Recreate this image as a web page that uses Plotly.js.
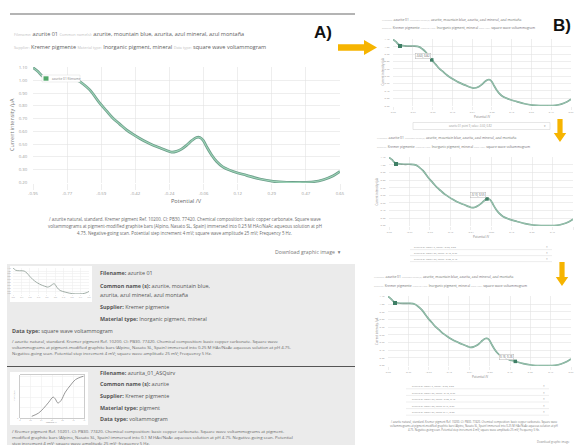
<!DOCTYPE html>
<html>
<head>
<meta charset="utf-8">
<script src="https://cdn.plot.ly/plotly-3.0.1.min.js"></script>
<style>
  html, body { margin: 0; padding: 0; background: #fff; }
  #chart { width: 575px; height: 445px; }
</style>
</head>
<body>
<div id="chart"></div>
<script>
// ---- azurite 01: square wave voltammogram (potential /V, current /µA) ----
const potential = [-0.950, -0.924, -0.898, -0.863, -0.811, -0.759, -0.715, -0.689, -0.654, -0.602,
                   -0.567, -0.533, -0.498, -0.463, -0.428, -0.393, -0.359, -0.324, -0.289, -0.254,
                   -0.228, -0.202, -0.176, -0.150, -0.124, -0.098, -0.080, -0.063, -0.046, -0.020,
                    0.007,  0.041,  0.093,  0.163,  0.233,  0.302,  0.372,  0.441,  0.511,  0.563,
                    0.615,  0.650];
const current   = [1.100, 1.069, 1.030, 1.014, 1.009, 1.009, 0.998, 0.972, 0.925, 0.821,
                   0.761, 0.703, 0.657, 0.612, 0.576, 0.544, 0.516, 0.492, 0.471, 0.450,
                   0.437, 0.443, 0.461, 0.490, 0.526, 0.552, 0.552, 0.529, 0.482, 0.417,
                   0.364, 0.320, 0.286, 0.255, 0.226, 0.208, 0.200, 0.200, 0.205, 0.221,
                   0.252, 0.286];

// ---- azurita_01_ASQsirv: voltammogram shown as a list thumbnail ----
const potential2 = [0.22, 0.35, 0.44, 0.54, 0.62, 0.66, 0.71, 0.77, 0.85, 0.95, 1.04, 1.14, 1.19];
const current2   = [0.04, 0.12, 0.23, 0.38, 0.50, 0.46, 0.36, 0.42, 0.62, 0.79, 0.92, 0.98, 1.00];

// ---- axis ticks ----
const xTickVals = [-0.95, -0.772, -0.594, -0.417, -0.239, -0.061, 0.117, 0.294, 0.472, 0.65];
const xTickText = ['-0.95', '-0.77', '-0.59', '-0.42', '-0.24', '-0.06', '0.12', '0.29', '0.47', '0.65'];
const yTickVals = [0.20, 0.30, 0.40, 0.50, 0.60, 0.70, 0.80, 0.90, 1.00, 1.10];
const yTickText = ['0.20', '0.30', '0.40', '0.50', '0.60', '0.70', '0.80', '0.90', '1.00', '1.10'];

// points picked on the three interactive views, and the selection lists below them
const pickedB1 = 9;
const pickedB2 = 25;
const pickedB3 = 33;
const listB2 = [9, 25, 29];
const listB3 = [9, 25, 29, 33, 37];

// ---- record text ----
const seriesName = 'azurite 01';
const meta1 = [['Filename:', 'azurite 01'], ['Common name(s):', 'azurite, mountain blue, azurita, azul mineral, azul montaña']];
const meta2 = [['Supplier:', 'Kremer pigmente'], ['Material type:', 'Inorganic pigment, mineral'], ['Data type:', 'square wave voltammogram']];
const caption = [
  '/ azurite natural, standard. Kremer pigment Ref. 10200. CI: PB30. 77420. Chemical composition: basic copper carbonate. Square wave',
  'voltammograms at pigment-modified graphite bars (Alpino, Nasato SL, Spain) immersed into 0.25 M HAc/NaAc aqueous solution at pH',
  '4.75. Negative-going scan. Potential step increment 4 mV; square wave amplitude 25 mV; Frequency 5 Hz.'
];
const captionBox1 = [
  '/ azurite natural, standard. Kremer pigment Ref. 10200. CI: PB30. 77420. Chemical composition: basic copper carbonate. Square wave',
  'voltammograms at pigment-modified graphite bars (Alpino, Nasato SL, Spain) immersed into 0.25 M HAc/NaAc aqueous solution at pH 4.75.',
  'Negative-going scan. Potential step increment 4 mV; square wave amplitude 25 mV; Frequency 5 Hz.'
];
const captionBox2 = [
  '/ Kremer pigment Ref. 10201. CI: PB30. 77420. Chemical composition: basic copper carbonate. Square wave voltammograms at pigment-',
  'modified graphite bars (Alpino, Nasato SL, Spain) immersed into 0.1 M HAc/NaAc aqueous solution at pH 4.75. Negative-going scan. Potential',
  'step increment 4 mV; square wave amplitude 25 mV; frequency 5 Hz.'
];

// ---- page geometry helpers (pixel -> paper) ----
const W = 575, H = 445;
const fx = p => p / W;
const fy = p => 1 - p / H;
const FONT = '"Open Sans", "DejaVu Sans", sans-serif';
const GOLD = '#f6b400';

const traces = [];
const shapes = [];
const annotations = [];
const layout = {
  width: W, height: H,
  margin: { l: 0, r: 0, t: 0, b: 0 },
  paper_bgcolor: '#ffffff', plot_bgcolor: '#ffffff',
  showlegend: false,
  font: { family: FONT },
  shapes, annotations
};

function addAxes(n, box, tick, xExtra, yExtra) {
  const [x0, x1, y0, y1] = box;
  const s = n === 1 ? '' : String(n);
  const base = {
    showgrid: true, gridcolor: '#e3e3e3', gridwidth: 0.6,
    zeroline: false, showline: false, fixedrange: true,
    tickfont: { size: tick.size, color: '#9a9a9a', family: FONT }
  };
  layout['xaxis' + s] = Object.assign({}, base, {
    domain: [fx(x0), fx(x1)], anchor: 'y' + s,
    range: [-0.95, 0.65], tickvals: xTickVals, ticktext: xTickText,
    ticks: 'outside', ticklen: tick.xlen, tickcolor: '#e3e3e3', tickwidth: 0.6
  }, xExtra || {});
  layout['yaxis' + s] = Object.assign({}, base, {
    domain: [fy(y1), fy(y0)], anchor: 'x' + s,
    range: [0.195, 1.105], tickvals: yTickVals, ticktext: yTickText,
    ticks: 'outside', ticklen: tick.ylen, tickcolor: 'rgba(0,0,0,0)'
  }, yExtra || {});
  return { xaxis: 'x' + s, yaxis: 'y' + s, xref: 'x' + s, yref: 'y' + s };
}

function text(x, y, t, size, color, extra) {
  annotations.push(Object.assign({
    xref: 'paper', yref: 'paper', x: fx(x), y: fy(y), text: t,
    showarrow: false, xanchor: 'left', yanchor: 'middle',
    font: { size: size, color: color, family: FONT }
  }, extra || {}));
}

function rect(x0, y0, x1, y1, fill, line, lw, layer) {
  shapes.push({
    type: 'rect', xref: 'paper', yref: 'paper',
    x0: fx(x0), x1: fx(x1), y0: fy(y1), y1: fy(y0),
    fillcolor: fill, line: { color: line || 'rgba(0,0,0,0)', width: lw || 0 },
    layer: layer || 'below'
  });
}

function hline(x0, x1, y, color, w, layer) {
  shapes.push({
    type: 'line', xref: 'paper', yref: 'paper',
    x0: fx(x0), x1: fx(x1), y0: fy(y), y1: fy(y),
    line: { color: color, width: w }, layer: layer || 'above'
  });
}

function arrowRight(x0, x1, yc, sh, hh, hl) {
  const p = [[x0, yc - sh], [x1 - hl, yc - sh], [x1 - hl, yc - hh], [x1, yc],
             [x1 - hl, yc + hh], [x1 - hl, yc + sh], [x0, yc + sh]];
  pathShape(p);
}
function arrowDown(xc, y0, y1, sh, hh, hl) {
  const p = [[xc - sh, y0], [xc - sh, y1 - hl], [xc - hh, y1 - hl], [xc, y1],
             [xc + hh, y1 - hl], [xc + sh, y1 - hl], [xc + sh, y0]];
  pathShape(p);
}
function pathShape(p) {
  const d = p.map((q, i) => (i ? 'L' : 'M') + fx(q[0]).toFixed(5) + ',' + fy(q[1]).toFixed(5)).join(' ') + ' Z';
  shapes.push({ type: 'path', xref: 'paper', yref: 'paper', path: d, fillcolor: GOLD, line: { width: 0 }, layer: 'above' });
}

const label = (s, sz) => `<span style="font-size:${sz}px;color:#c2c2c2">${s}</span>`;
const metaLine = (pairs, lsz) => pairs.map(p => label(p[0], lsz) + ' ' + p[1]).join(' ');
const fmt = v => v.toFixed(2);

// ================= A) main record view =================
hline(10, 355, 14, '#6a6a6a', 1.2);
text(12, 34, metaLine(meta1, 3.8), 5.5, '#606060');
text(12, 47, metaLine(meta2, 3.8), 5.5, '#606060');
text(323, 32, '<b>A)</b>', 17, '#111', { xanchor: 'center', font: { size: 17, color: '#111', family: 'Liberation Sans, Arial, sans-serif' } });

const A = addAxes(1, [33, 340, 67, 183], { size: 4.3, xlen: 6, ylen: 4 });
traces.push({ x: potential, y: current, xaxis: A.xaxis, yaxis: A.yaxis, type: 'scatter', mode: 'lines',
  line: { color: '#6c9e8a', width: 2.7, shape: 'spline' }, hoverinfo: 'skip' });
traces.push({ x: potential, y: current, xaxis: A.xaxis, yaxis: A.yaxis, type: 'scatter', mode: 'lines',
  line: { color: '#9dd3b7', width: 1.1, shape: 'spline' }, hoverinfo: 'skip' });

// legend box
rect(42, 75, 80, 82, '#ffffff', '#dcdcdc', 0.5, 'above');
rect(43.5, 76.3, 48.5, 80.7, '#52a86a', null, 0, 'above');
text(50, 78.6, seriesName + ' filename', 3.2, '#888');

text(12, 125, 'Current intensity /µA', 5.4, '#777', { xanchor: 'center', textangle: -90 });
text(186, 201, 'Potential /V', 5.6, '#666', { xanchor: 'center' });
caption.forEach((c, i) => text(185, 219 + i * 7.2, c, 4.4, '#6a6a6a', { xanchor: 'center' }));
text(343, 252, 'Download graphic image &nbsp;▾', 5.2, '#777', { xanchor: 'right' });

// arrow to the interactive views
arrowRight(338, 377, 47.5, 3.2, 7.5, 13);

// ================= record list =================
rect(7, 264, 355, 366, '#ebebeb');
rect(7, 367, 355, 445, '#ebebeb');
hline(7, 355, 366.5, '#555555', 1);

// thumbnail 1
rect(10, 266, 92, 302, '#ffffff');
const T1 = addAxes(2, [13, 89, 268, 294], { size: 1.6, xlen: 1, ylen: 1 },
  { gridcolor: '#eeeeee', showticklabels: true }, { gridcolor: '#eeeeee' });
traces.push({ x: potential, y: current, xaxis: T1.xaxis, yaxis: T1.yaxis, type: 'scatter', mode: 'lines',
  line: { color: '#8a9a92', width: 0.8, shape: 'spline' }, hoverinfo: 'skip' });

text(98, 273, '<b>Filename:</b> azurite 01', 5.4, '#555');
text(98, 286, '<b>Common name (s):</b> azurite, mountain blue,', 5.4, '#555');
text(98, 295, 'azurita, azul mineral, azul montaña', 5.4, '#555');
text(98, 307, '<b>Supplier:</b> Kremer pigmente', 5.4, '#555');
text(98, 319, '<b>Material type:</b> Inorganic pigment, mineral', 5.4, '#555');
text(10, 331, '<b>Data type:</b> square wave voltammogram', 5.4, '#555');
captionBox1.forEach((c, i) => text(10, 341 + i * 6.2, c, 4.3, '#666'));

// thumbnail 2
rect(10, 372, 88, 425, '#ffffff');
const T2 = addAxes(3, [20, 84, 375, 418], { size: 1.6, xlen: 1, ylen: 1 },
  { range: [0, 1.2], tickvals: [0, 0.2, 0.4, 0.6, 0.8, 1.0, 1.2], ticktext: ['0', '0.2', '0.4', '0.6', '0.8', '1.0', '1.2'], gridcolor: '#efefef',
    showline: true, linecolor: '#999', linewidth: 0.5, mirror: true },
  { range: [0, 1.03], tickvals: [0, 0.25, 0.5, 0.75, 1.0], ticktext: ['0', '', '', '', ''], gridcolor: '#efefef',
    showline: true, linecolor: '#999', linewidth: 0.5, mirror: true });
traces.push({ x: potential2, y: current2, xaxis: T2.xaxis, yaxis: T2.yaxis, type: 'scatter', mode: 'lines',
  line: { color: '#7d7d7d', width: 0.8, shape: 'spline' }, hoverinfo: 'skip' });
text(14, 396, 'Intensity /A', 2, '#888', { xanchor: 'center', textangle: -90 });
text(52, 422.5, 'Potential /V', 2, '#888', { xanchor: 'center' });

text(98, 373, '<b>Filename:</b> azurita_01_ASQsirv', 5.4, '#555');
text(98, 384, '<b>Common name (s):</b> azurite', 5.4, '#555');
text(98, 396, '<b>Supplier:</b> Kremer pigmente', 5.4, '#555');
text(98, 408, '<b>Material type:</b> pigment', 5.4, '#555');
text(98, 419, '<b>Data type:</b> voltammogram', 5.4, '#555');
captionBox2.forEach((c, i) => text(10, 431 + i * 6, c, 4.3, '#666'));

// ================= B) interactive views =================
text(562, 25, '<b>B)</b>', 17, '#111', { xanchor: 'center', font: { size: 17, color: '#111', family: 'Liberation Sans, Arial, sans-serif' } });

function smallMeta(x, y1, y2) {
  text(x, y1, metaLine(meta1, 2.4), 3.3, '#707070');
  text(x, y2, metaLine(meta2, 2.4), 3.3, '#707070');
}

function interactiveView(n, box, picked, titleY, yTitleX) {
  const ax = addAxes(n, box, { size: 2.5, xlen: 3, ylen: 2 });
  traces.push({ x: potential, y: current, xaxis: ax.xaxis, yaxis: ax.yaxis, type: 'scatter', mode: 'lines',
    line: { color: '#76a391', width: 1.7, shape: 'spline' }, hoverinfo: 'skip' });
  traces.push({ x: potential, y: current, xaxis: ax.xaxis, yaxis: ax.yaxis, type: 'scatter', mode: 'lines',
    line: { color: '#acd6c0', width: 0.6, shape: 'spline' }, hoverinfo: 'skip' });
  // picked point with its value label
  traces.push({ x: [potential[picked]], y: [current[picked]], xaxis: ax.xaxis, yaxis: ax.yaxis, type: 'scatter', mode: 'markers',
    marker: { color: '#3f7f66', size: 3.5, symbol: 'square' }, hoverinfo: 'skip', cliponaxis: false });
  annotations.push({
    xref: ax.xref, yref: ax.yref, x: potential[picked], y: current[picked],
    text: fmt(potential[picked]) + ', ' + fmt(current[picked]),
    showarrow: false, xanchor: 'right', yanchor: 'bottom', xshift: -1, yshift: 1,
    font: { size: 2.8, color: '#555', family: FONT },
    bgcolor: '#ffffff', bordercolor: '#b5b5b5', borderwidth: 0.5, borderpad: 0.6
  });
  // series key
  const [x0, , y0] = box;
  rect(x0 + 5, y0 + 5, x0 + 9, y0 + 9, '#3f7f66', null, 0, 'above');
  text(x0 + 10, y0 + 7, seriesName, 2.4, '#888');
  text(yTitleX, (box[2] + box[3]) / 2, 'Current intensity /µA', 2.8, '#888', { xanchor: 'center', textangle: -90 });
  text((box[0] + box[1]) / 2, titleY, 'Potential /V', 3, '#777', { xanchor: 'center' });
  return ax;
}

// view 1
smallMeta(380, 19, 28);
interactiveView(4, [393, 571, 39, 106], pickedB1, 117, 382);
rect(413, 122.5, 550, 129.5, '#ffffff', '#cfcfcf', 0.5, 'above');
text(470, 126, seriesName + ' point ' + pickedB1 + ', value: ' + fmt(potential[pickedB1]) + ', ' + fmt(current[pickedB1]), 2.6, '#999', { xanchor: 'center' });
text(548, 126, '▾', 3, '#999', { xanchor: 'right' });
arrowDown(560, 119, 142, 2.6, 6.2, 9);

// view 2
smallMeta(375, 137, 146);
interactiveView(5, [389, 573, 157, 226], pickedB2, 237, 377);
listB2.forEach((idx, i) => {
  const y = 247 + i * 6;
  text(412, y, seriesName + ' point: ' + idx + ', value: ' + fmt(potential[idx]) + ', ' + fmt(current[idx]), 2.5, '#888');
  text(550, y, '×', 3, '#999', { xanchor: 'right' });
  hline(410, 552, y + 2.6, '#dddddd', 0.5);
});
arrowDown(562, 262, 286, 2.6, 6.2, 9);

// view 3
smallMeta(372, 276, 285);
interactiveView(6, [388, 571, 296, 366], pickedB3, 377, 377);
listB3.forEach((idx, i) => {
  const y = 386 + i * 6.6;
  text(410, y, seriesName + ' point: ' + idx + ', value: ' + fmt(potential[idx]) + ', ' + fmt(current[idx]), 2.5, '#888');
  text(547, y, '×', 3, '#999', { xanchor: 'right' });
  hline(406, 549, y + 2.8, '#dddddd', 0.5);
});
caption.forEach((c, i) => text(474, 422 + i * 4.2, c, 2.7, '#777', { xanchor: 'center' }));
text(572, 442, 'Download graphic image', 2.8, '#888', { xanchor: 'right' });

Plotly.newPlot('chart', traces, layout, { staticPlot: true, displayModeBar: false });
</script>
</body>
</html>
